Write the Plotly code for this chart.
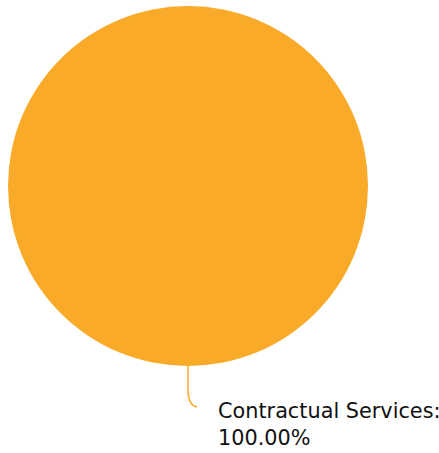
import plotly.graph_objects as go

# Budget share by category
categories = ["Contractual Services"]
amounts = [1.0]
slice_colors = ["#F9AA28"]

W, H = 439, 453
total = sum(amounts)
shares = [a / total * 100 for a in amounts]

# Pie placement in pixels (centre and radius), converted to paper fractions
cx, cy, r = 188, 186, 180
dom_x = [(cx - r) / W, (cx + r) / W]
dom_y = [1 - (cy + r) / H, 1 - (cy - r) / H]

fig = go.Figure(
    go.Pie(
        labels=categories,
        values=amounts,
        marker=dict(colors=slice_colors, line=dict(width=0)),
        textinfo="none",
        sort=False,
        direction="clockwise",
        hoverinfo="label+percent",
        domain=dict(x=dom_x, y=dom_y),
        showlegend=False,
    )
)

def px(x):
    return x / W

def py(y):
    return 1 - y / H

# Leader line from the bottom of the slice to the label
x0, y0 = cx, cy + r
path = (
    f"M {px(x0)},{py(y0)} "
    f"L {px(x0)},{py(y0 + 26)} "
    f"Q {px(x0 + 1)},{py(y0 + 40)} {px(x0 + 9)},{py(y0 + 41)}"
)
fig.add_shape(
    type="path",
    xref="paper",
    yref="paper",
    path=path,
    line=dict(color=slice_colors[0], width=1.5),
)

label_text = f"{categories[0]}:<br>{shares[0]:.2f}%"
fig.add_annotation(
    x=px(216),
    y=py(397),
    xref="paper",
    yref="paper",
    xanchor="left",
    yanchor="top",
    align="left",
    showarrow=False,
    text=label_text,
    font=dict(family="DejaVu Sans", size=20.8, color="#111111"),
)

fig.update_layout(
    width=W,
    height=H,
    margin=dict(l=0, r=0, t=0, b=0),
    paper_bgcolor="white",
    plot_bgcolor="white",
)

fig.write_html("out.html")
